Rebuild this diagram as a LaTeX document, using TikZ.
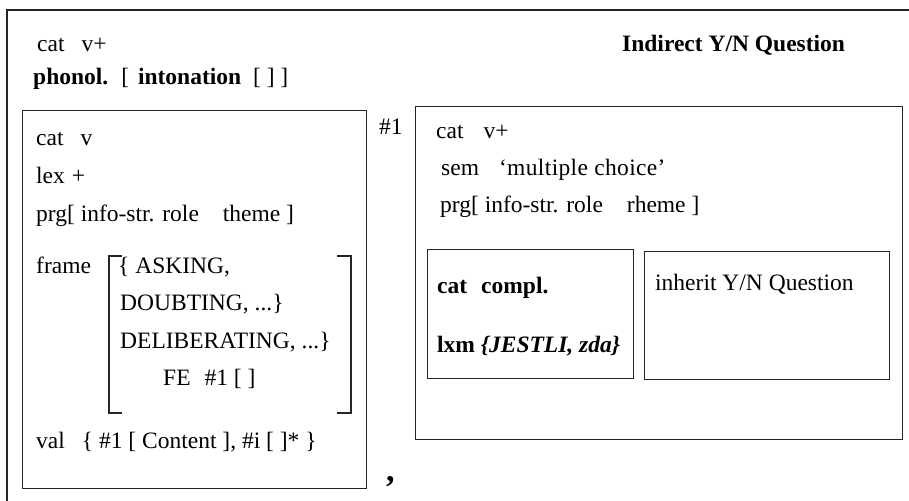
\documentclass[tikz,border=0pt]{standalone}
\usepackage{fontspec}
\setmainfont{Liberation Serif}
\tikzset{
  box/.style={draw=black!85, line width=1.1pt, anchor=north west, inner sep=0pt},
  txt/.style={anchor=west, inner sep=0pt, font=\fontsize{23.5}{26}\selectfont, text height=15pt, text depth=5pt},
  brk/.style={draw=black!85, line width=1.1pt}
}
\begin{document}
\begin{tikzpicture}[x=1pt,y=-1pt]
\clip (0,0) rectangle (909,500);
\fill[white] (0,0) rectangle (909,500);
% outer (cropped) frame
\draw[black!85, line width=1.1pt] (7,1000) -- (7,10) -- (1000,10);
\node[txt] (t1) at (37,47) {cat\hspace{17pt}v+};
\node[txt] (t2) at (33,80) {\textbf{phonol.}\hspace{13pt}[\hspace{3pt} \textbf{intonation}\hspace{6pt} [ ] ]};
\node[txt] (t3) at (622,47) {\textbf{Indirect Y/N Question}};
% left box
\node[box, minimum width=344pt, minimum height=378pt] (lbox) at (22,110) {};
\node[txt] (l1) at (36,140) {cat\hspace{17pt}v};
\node[txt] (l2) at (36,178) {lex\hspace{7pt}+};
\node[txt] (l3) at (36,216) {prg[ info-str. role\hspace{24pt}theme ]};
\node[txt] (l4) at (36,268) {frame};
\node[txt] (l5) at (118,268) {\{ ASKING,};
\node[txt] (l6) at (120,305) {DOUBTING, ...\}};
\node[txt] (l7) at (120,343) {DELIBERATING, ...\}};
\node[txt] (l8) at (163,380) {FE\hspace{14pt}\#1 [ ]};
\node[txt] (l9) at (36,443) {val\hspace{17pt}\{ \#1 [ Content ], \#i [ ]*\hspace{6pt}\}};
\coordinate (bl1) at (122,256); \coordinate (bl2) at (109,256);
\coordinate (bl3) at (109,413); \coordinate (bl4) at (122,413);
\draw[brk] (bl1) -- (bl2) -- (bl3) -- (bl4);
\coordinate (br1) at (337,256); \coordinate (br2) at (351,256);
\coordinate (br3) at (351,413); \coordinate (br4) at (337,413);
\draw[brk] (br1) -- (br2) -- (br3) -- (br4);
\node[txt, font=\fontsize{34}{36}\selectfont\bfseries] (comma) at (386,476) {,};
\node[txt] (h1) at (379,129) {\#1};
% right box
\node[box, minimum width=487pt, minimum height=333pt] (rbox) at (415,106) {};
\node[txt] (r1) at (436,133) {cat\hspace{20pt}v+};
\node[txt] (r2) at (441,170) {sem\hspace{20pt}{\addfontfeature{LetterSpace=1.5}`multiple choice'}};
\node[txt] (r3) at (440,207) {prg[ info-str. role\hspace{24pt}rheme ]};
\node[box, minimum width=206pt, minimum height=129pt] (ib1) at (427,249) {};
\node[box, minimum width=245pt, minimum height=128pt] (ib2) at (644,251) {};
\node[txt] (c1) at (437,288) {\textbf{cat\hspace{14pt}compl.}};
\node[txt] (c2) at (437,347) {\textbf{lxm} \textbf{\itshape\{JESTLI, zda\}}};
\node[txt] (c3) at (655,285) {inherit Y/N Question};
\end{tikzpicture}
\end{document}
